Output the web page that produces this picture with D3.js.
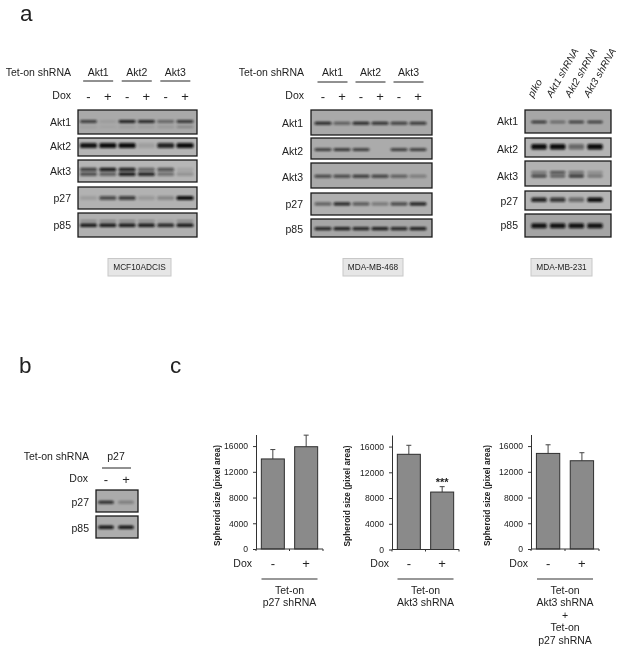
<!DOCTYPE html>
<html>
<head>
<meta charset="utf-8">
<title>Akt isoform knockdown</title>
<script src="https://cdn.jsdelivr.net/npm/d3@7/dist/d3.min.js"></script>
<style>
html, body { margin:0; padding:0; background:#fff; }
svg { display:block; }
text { font-family:"Liberation Sans", Arial, sans-serif; fill:#222; }
</style>
</head>
<body>
<script>
// values
var rowNames = ["Akt1", "Akt2", "Akt3", "p27", "p85"];
var shGroups = ["Akt1", "Akt2", "Akt3"];
var doxSigns = ["-", "+"];
var lanes231 = ["pIko", "Akt1 shRNA", "Akt2 shRNA", "Akt3 shRNA"];
var cellLines = ["MCF10ADCIS", "MDA-MB-468", "MDA-MB-231"];

// band intensity per lane (0-1), one inner array per band in the row
var mcfAkt1 = [[.7,.08,.9,.85,.45,.75],[.08,.05,.1,.1,.15,.3]];
var mcfAkt2 = [[.95,1,1,.12,.85,1]];
var mcfAkt3 = [[.7,.95,.9,.5,.6,.1],[.6,.5,.9,.85,.4,.2]];
var mcfP27  = [[.12,.6,.7,.15,.25,1]];
var mcfP85  = [[.95,.95,.95,.95,.85,.95],[.3,.35,.35,.3,.1,.35]];

var mda468Akt1 = [[.85,.5,.85,.8,.7,.75]];
var mda468Akt2 = [[.75,.8,.75,0,.75,.75]];
var mda468Akt3 = [[.65,.65,.75,.7,.5,.3]];
var mda468P27  = [[.5,.85,.55,.35,.65,.9]];
var mda468P85  = [[.85,.9,.85,.9,.85,.9]];

var mda231Akt1 = [[.8,.45,.75,.75]];
var mda231Akt2 = [[1,1,.45,1]];
var mda231Akt3 = [[.4,.65,.45,.25],[.7,.55,.8,.4]];
var mda231P27  = [[.85,.75,.45,1]];
var mda231P85  = [[.95,.95,.95,.95]];

var bP27 = [[.85,.3]];
var bP85 = [[.95,.95]];

// spheroid size bars
var sizeP27 = [14000, 15900];
var errP27  = [15460, 17700];
var sizeAkt3 = [14800, 8930];
var errAkt3  = [16200, 9770];
var sizeBoth = [14860, 13720];
var errBoth  = [16200, 14970];
var sizeTicks = [0, 4000, 8000, 12000, 16000];

var width = 625, height = 652;

var root = d3.select("body").append("svg")
	.attr("width", width)
	.attr("height", height);

var defs = root.append("defs");
defs.append("filter").attr("id", "soft")
	.attr("x", "-30%").attr("y", "-150%").attr("width", "160%").attr("height", "400%")
	.append("feGaussianBlur").attr("stdDeviation", "1.2 0.8");
// scan softness over the whole figure
defs.append("filter").attr("id", "scan")
	.attr("filterUnits", "userSpaceOnUse")
	.attr("x", 0).attr("y", 0).attr("width", width).attr("height", height)
	.append("feGaussianBlur").attr("stdDeviation", 0.35);

root.append("rect").attr("width", width).attr("height", height).attr("fill", "#fff");
var svg = root.append("g").attr("filter", "url(#scan)");

function label(x, y, str, size, anchor){
	return svg.append("text")
		.attr("x", x)
		.attr("y", y)
		.attr("dy", "0.35em")
		.attr("text-anchor", anchor || "middle")
		.attr("font-size", size || 10.5)
		.text(str);
}

// one blot: rows hold top/bottom pixel rows, band layout and the data
function drawBlot(b){
	var lane = d3.scalePoint().domain(d3.range(b.lanes.length)).range(b.laneRange);
	b.rows.forEach(function(r, ri){
		var g = svg.append("g");
		var y = d3.scaleLinear().domain([0, 1]).range([r.top, r.bottom]);
		g.append("rect")
			.attr("x", b.x0).attr("y", r.top)
			.attr("width", b.x1 - b.x0).attr("height", r.bottom - r.top)
			.attr("fill", r.bg);
		r.data.forEach(function(track, ti){
			var t = r.tracks[ti];
			g.selectAll("rect.band" + ti)
				.data(track).enter().append("rect")
				.attr("class", "band" + ti)
				.attr("x", function(d, i){ return lane(i) - b.bandW / 2; })
				.attr("y", y(t.pos) - t.h / 2)
				.attr("width", b.bandW)
				.attr("height", t.h)
				.attr("rx", 1.5)
				.attr("fill", "#0c0c0c")
				.attr("opacity", function(d){ return d; })
				.attr("filter", "url(#soft)");
		});
		g.append("rect")
			.attr("x", b.x0).attr("y", r.top)
			.attr("width", b.x1 - b.x0).attr("height", r.bottom - r.top)
			.attr("fill", "none")
			.attr("stroke", "#1a1a1a")
			.attr("stroke-width", 1.3);
		label(b.labelX, r.labelY, rowNames[b.first + ri], 10.5, "end");
	});
	return lane;
}

function cellBox(x0, x1, str){
	svg.append("rect")
		.attr("x", x0).attr("y", 258.5)
		.attr("width", x1 - x0).attr("height", 17.5)
		.attr("fill", "#e6e6e6")
		.attr("stroke", "#c8c8c8");
	label((x0 + x1) / 2, 267.5, str, 8.3);
}

function shHeader(lane, labelX, headY, lineY, doxY, names){
	label(labelX, headY, "Tet-on shRNA", 10.5, "end");
	label(labelX, doxY, "Dox", 10.5, "end");
	names.forEach(function(n, i){
		var a = lane(i * 2), c = lane(i * 2 + 1);
		label((a + c) / 2, headY, n, 10.5);
		svg.append("line")
			.attr("x1", (a + c) / 2 - 15).attr("x2", (a + c) / 2 + 15)
			.attr("y1", lineY).attr("y2", lineY)
			.attr("stroke", "#222").attr("stroke-width", 1);
		doxSigns.forEach(function(s, j){
			label(lane(i * 2 + j), doxY + 1, s, 13);
		});
	});
}

var lane1 = drawBlot({
	lanes: d3.range(6), laneRange: [88.5, 185], x0: 78, x1: 197, bandW: 17,
	labelX: 71, first: 0,
	rows: [
		{top:110, bottom:134, labelY:122, bg:"#a9a9a9", data:mcfAkt1, tracks:[{pos:.48,h:2.8},{pos:.7,h:1.8}]},
		{top:138, bottom:156, labelY:146, bg:"#b4b4b4", data:mcfAkt2, tracks:[{pos:.41,h:5}]},
		{top:160, bottom:182, labelY:171, bg:"#b6b6b6", data:mcfAkt3, tracks:[{pos:.43,h:3.4},{pos:.64,h:3.6}]},
		{top:187, bottom:209, labelY:198, bg:"#b2b2b2", data:mcfP27, tracks:[{pos:.5,h:3.8}]},
		{top:213, bottom:237, labelY:225, bg:"#b0b0b0", data:mcfP85, tracks:[{pos:.51,h:3.6},{pos:.33,h:1.8}]}
	]
});
shHeader(lane1, 71, 72, 81, 95, shGroups);
cellBox(108, 171, cellLines[0]);

var lane2 = drawBlot({
	lanes: d3.range(6), laneRange: [323, 418], x0: 311, x1: 432, bandW: 17,
	labelX: 303, first: 0,
	rows: [
		{top:110, bottom:135, labelY:123, bg:"#a9a9a9", data:mda468Akt1, tracks:[{pos:.53,h:3}]},
		{top:138, bottom:159, labelY:151, bg:"#ababab", data:mda468Akt2, tracks:[{pos:.55,h:2.8}]},
		{top:163, bottom:188, labelY:177, bg:"#a9a9a9", data:mda468Akt3, tracks:[{pos:.53,h:2.8}]},
		{top:193, bottom:215, labelY:204, bg:"#b0b0b0", data:mda468P27, tracks:[{pos:.49,h:3.2}]},
		{top:219, bottom:237, labelY:229, bg:"#a6a6a6", data:mda468P85, tracks:[{pos:.54,h:3.2}]}
	]
});
shHeader(lane2, 304, 72, 82, 95, shGroups);
cellBox(343, 403, cellLines[1]);

var lane3 = drawBlot({
	lanes: lanes231, laneRange: [539, 595], x0: 525, x1: 611, bandW: 15.5,
	labelX: 518, first: 0,
	rows: [
		{top:110, bottom:133, labelY:121, bg:"#a6a6a6", data:mda231Akt1, tracks:[{pos:.52,h:2.6}]},
		{top:138, bottom:157, labelY:149, bg:"#b4b4b4", data:mda231Akt2, tracks:[{pos:.46,h:5.4}]},
		{top:161, bottom:186, labelY:176, bg:"#b2b2b2", data:mda231Akt3, tracks:[{pos:.45,h:2.4},{pos:.6,h:2.8}]},
		{top:191, bottom:210, labelY:201, bg:"#b4b4b4", data:mda231P27, tracks:[{pos:.46,h:4.6}]},
		{top:214, bottom:237, labelY:225, bg:"#a4a4a4", data:mda231P85, tracks:[{pos:.51,h:5}]}
	]
});
lanes231.forEach(function(n, i){
	svg.append("text")
		.attr("transform", "translate(" + (lane3(i) - 6) + ",98) rotate(-60)")
		.attr("font-size", 10)
		.attr("font-style", "italic")
		.text(n);
});
cellBox(531, 592, cellLines[2]);

// panel b
var laneB = d3.scalePoint().domain([0, 1]).range([106, 126]);
drawBlot({
	lanes: [0, 1], laneRange: [106, 126], x0: 96, x1: 138, bandW: 15.5,
	labelX: 89, first: 3,
	rows: [
		{top:490, bottom:512, labelY:502, bg:"#ababab", data:bP27, tracks:[{pos:.56,h:3}]},
		{top:516, bottom:538, labelY:528, bg:"#adadad", data:bP85, tracks:[{pos:.51,h:3.6}]}
	]
});
label(89, 456, "Tet-on shRNA", 10.5, "end");
label(116, 456, "p27", 10.5);
svg.append("line").attr("x1", 102).attr("x2", 131).attr("y1", 468).attr("y2", 468)
	.attr("stroke", "#222").attr("stroke-width", 1);
label(88, 478, "Dox", 10.5, "end");
doxSigns.forEach(function(s, j){ label(laneB(j), 479, s, 13); });

// panel letters
[["a", 20, 20.5], ["b", 19, 373], ["c", 170, 373]].forEach(function(p){
	svg.append("text").attr("x", p[1]).attr("y", p[2])
		.attr("font-size", 22.5).attr("fill", "#111").text(p[0]);
});

// bar panels
function drawBars(c){
	var x = d3.scaleBand().domain(doxSigns).range([c.x0, c.x1]).paddingInner(0.31).paddingOuter(0.16);
	var y = d3.scaleLinear().domain([0, 17800]).range([c.y0, c.y0 - 114.5]);
	var g = svg.append("g");
	var rows = doxSigns.map(function(s, i){ return {s:s, v:c.values[i], e:c.errs[i]}; });

	var err = g.selectAll("g.err").data(rows).enter().append("g");
	err.append("line")
		.attr("x1", function(d){ return x(d.s) + x.bandwidth() / 2; })
		.attr("x2", function(d){ return x(d.s) + x.bandwidth() / 2; })
		.attr("y1", function(d){ return y(d.v); })
		.attr("y2", function(d){ return y(d.e); })
		.attr("stroke", "#444");
	err.append("line")
		.attr("x1", function(d){ return x(d.s) + x.bandwidth() / 2 - 2.5; })
		.attr("x2", function(d){ return x(d.s) + x.bandwidth() / 2 + 2.5; })
		.attr("y1", function(d){ return y(d.e); })
		.attr("y2", function(d){ return y(d.e); })
		.attr("stroke", "#444");

	g.selectAll("rect.bar").data(rows).enter().append("rect")
		.attr("class", "bar")
		.attr("x", function(d){ return x(d.s); })
		.attr("y", function(d){ return y(d.v); })
		.attr("width", x.bandwidth())
		.attr("height", function(d){ return c.y0 - y(d.v); })
		.attr("fill", "#8a8a8a")
		.attr("stroke", "#2e2e2e")
		.attr("stroke-width", 1);

	var yAxis = d3.axisLeft(y).tickValues(sizeTicks).tickSizeInner(3).tickSizeOuter(0).tickPadding(c.tickPad).tickFormat(d3.format("d"));
	var ya = g.append("g").attr("transform", "translate(" + c.x0 + ",0)").call(yAxis);
	ya.selectAll("text").attr("font-size", 8.6);
	ya.selectAll("path,line").attr("stroke", "#333");

	g.append("line").attr("x1", c.x0).attr("x2", c.x1).attr("y1", c.y0).attr("y2", c.y0).attr("stroke", "#333");
	[c.x0, (c.x0 + c.x1) / 2, c.x1].forEach(function(tx){
		g.append("line").attr("x1", tx).attr("x2", tx).attr("y1", c.y0).attr("y2", c.y0 + 2).attr("stroke", "#333");
	});

	svg.append("text")
		.attr("transform", "translate(" + c.titleX + "," + (c.y0 - 53.5) + ") rotate(-90)")
		.attr("text-anchor", "middle")
		.attr("dy", "0.35em")
		.attr("font-size", 8.4)
		.attr("font-weight", "bold")
		.text("Spheroid size (pixel area)");

	label(c.doxX, 563.5, "Dox", 10.5, "end");
	doxSigns.forEach(function(s){
		label(x(s) + x.bandwidth() / 2, 563, s, 13);
	});

	var mid = (x(doxSigns[0]) + x(doxSigns[1]) + x.bandwidth()) / 2;
	svg.append("line")
		.attr("x1", mid - 28).attr("x2", mid + 28).attr("y1", 579).attr("y2", 579)
		.attr("stroke", "#333").attr("stroke-width", 1.2);
	c.caption.forEach(function(t, i){
		label(mid, 590 + i * 12.6, t, 10.5);
	});
	return {x:x, y:y};
}

drawBars({x0:256, x1:323, y0:549, values:sizeP27, errs:errP27, tickPad:5, titleX:217, doxX:252,
	caption:["Tet-on", "p27 shRNA"]});
var mid2 = drawBars({x0:392, x1:459, y0:549.5, values:sizeAkt3, errs:errAkt3, tickPad:5, titleX:347, doxX:389,
	caption:["Tet-on", "Akt3 shRNA"]});
drawBars({x0:531, x1:599, y0:549, values:sizeBoth, errs:errBoth, tickPad:5, titleX:487, doxX:528,
	caption:["Tet-on", "Akt3 shRNA", "+", "Tet-on", "p27 shRNA"]});

// significance mark above the Akt3 + bar
svg.append("text")
	.attr("x", mid2.x("+") + mid2.x.bandwidth() / 2)
	.attr("y", mid2.y(errAkt3[1]) - 1)
	.attr("text-anchor", "middle")
	.attr("font-size", 11)
	.attr("font-weight", "bold")
	.text("***");
</script>
</body>
</html>
